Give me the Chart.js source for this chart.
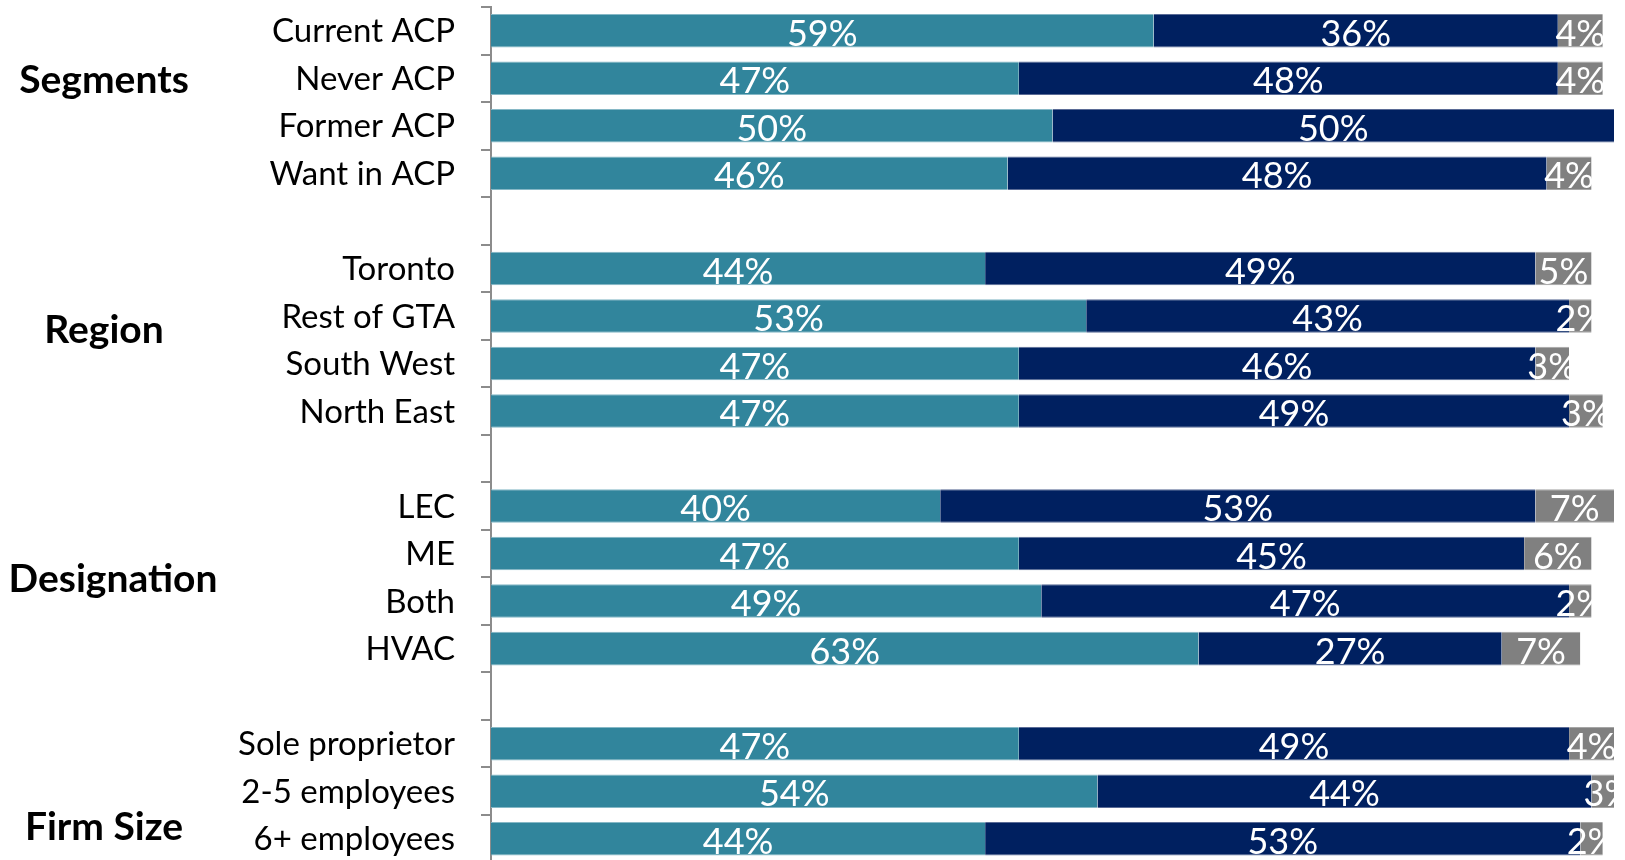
<!DOCTYPE html>
<html>
<head>
<meta charset="utf-8">
<script src="https://cdn.jsdelivr.net/npm/chart.js@4.4.1/dist/chart.umd.min.js"></script>
<style>
  html, body { margin: 0; padding: 0; background: #ffffff; overflow: hidden; }
  #wrap { position: relative; width: 1625px; height: 866px; }
</style>
</head>
<body>
<div id="wrap"><canvas id="chart" width="1625" height="866"></canvas></div>
<script>
// Row labels (empty strings are spacer rows between groups)
const categories = [
  'Current ACP', 'Never ACP', 'Former ACP', 'Want in ACP', '',
  'Toronto', 'Rest of GTA', 'South West', 'North East', '',
  'LEC', 'ME', 'Both', 'HVAC', '',
  'Sole proprietor', '2-5 employees', '6+ employees'
];

// Percent shares per row
const shareFirst  = [59, 47, 50, 46, null, 44, 53, 47, 47, null, 40, 47, 49, 63, null, 47, 54, 44];
const shareSecond = [36, 48, 50, 48, null, 49, 43, 46, 49, null, 53, 45, 47, 27, null, 49, 44, 53];
const shareThird  = [4, 4, null, 4, null, 5, 2, 3, 3, null, 7, 6, 2, 7, null, 4, 3, 2];

// Group headings and the row position each one sits at
const groupNames = ['Segments', 'Region', 'Designation', 'Firm Size'];
const groupRows  = [1.02, 6.29, 11.52, 16.75];

const FONT = 'Lato, "Open Sans", sans-serif';

// Category labels, group headings and in-bar value labels
const textPlugin = {
  id: 'textPlugin',
  afterDatasetsDraw(chart) {
    const { ctx, chartArea } = chart;
    const y = chart.scales.y;

    // value labels inside each segment, clipped to the plot area
    ctx.save();
    ctx.beginPath();
    ctx.rect(chartArea.left, chartArea.top, chartArea.right - chartArea.left, chartArea.bottom - chartArea.top);
    ctx.clip();
    ctx.fillStyle = '#ffffff';
    ctx.font = '36px ' + FONT;
    ctx.textAlign = 'center';
    ctx.textBaseline = 'middle';
    chart.data.datasets.forEach((ds, di) => {
      const meta = chart.getDatasetMeta(di);
      meta.data.forEach((el, i) => {
        const v = ds.data[i];
        if (v === null || v === undefined || v <= 0) return;
        const cx = (el.x + el.base) / 2;
        ctx.fillText(v + '%', cx, el.y + 3.5);
      });
    });
    ctx.restore();

    // category labels, right aligned beside the axis
    ctx.save();
    ctx.fillStyle = '#000000';
    ctx.font = '33px ' + FONT;
    ctx.textAlign = 'right';
    ctx.textBaseline = 'middle';
    categories.forEach((label, i) => {
      if (!label) return;
      ctx.fillText(label, chartArea.left - 36, y.getPixelForValue(i) + 1);
    });

    // group headings in the left margin
    const headingX = [104, 104, 113, 104];
    ctx.font = 'bold 39px ' + FONT;
    ctx.textAlign = 'center';
    groupNames.forEach((name, k) => {
      ctx.fillText(name, headingX[k], y.getPixelForValue(groupRows[k]) + 1);
    });
    ctx.restore();
  }
};

const barEdges = { top: 1, bottom: 1, left: 0, right: 0 };

new Chart(document.getElementById('chart'), {
  type: 'bar',
  data: {
    labels: categories,
    datasets: [
      { label: 'First', data: shareFirst, backgroundColor: '#31859c', borderColor: '#86b8c6', borderWidth: barEdges, borderSkipped: false },
      { label: 'Second', data: shareSecond, backgroundColor: '#002060', borderColor: '#5a6b96', borderWidth: barEdges, borderSkipped: false },
      { label: 'Third', data: shareThird, backgroundColor: '#808080', borderColor: '#a6a6a6', borderWidth: barEdges, borderSkipped: false }
    ]
  },
  options: {
    indexAxis: 'y',
    responsive: false,
    animation: false,
    layout: { padding: { left: 481, right: 11, top: 7, bottom: 3.5 } },
    datasets: { bar: { categoryPercentage: 1, barPercentage: 0.705 } },
    scales: {
      x: { stacked: true, display: false, min: 0, max: 100 },
      y: {
        stacked: true,
        grid: { display: true, drawOnChartArea: false, drawTicks: true, tickLength: 10, color: '#8c8c8c', lineWidth: 2, offset: true },
        border: { display: true, color: '#8c8c8c', width: 2 },
        ticks: { display: false }
      }
    },
    plugins: { legend: { display: false }, tooltip: { enabled: false } }
  },
  plugins: [textPlugin]
});
</script>
</body>
</html>
